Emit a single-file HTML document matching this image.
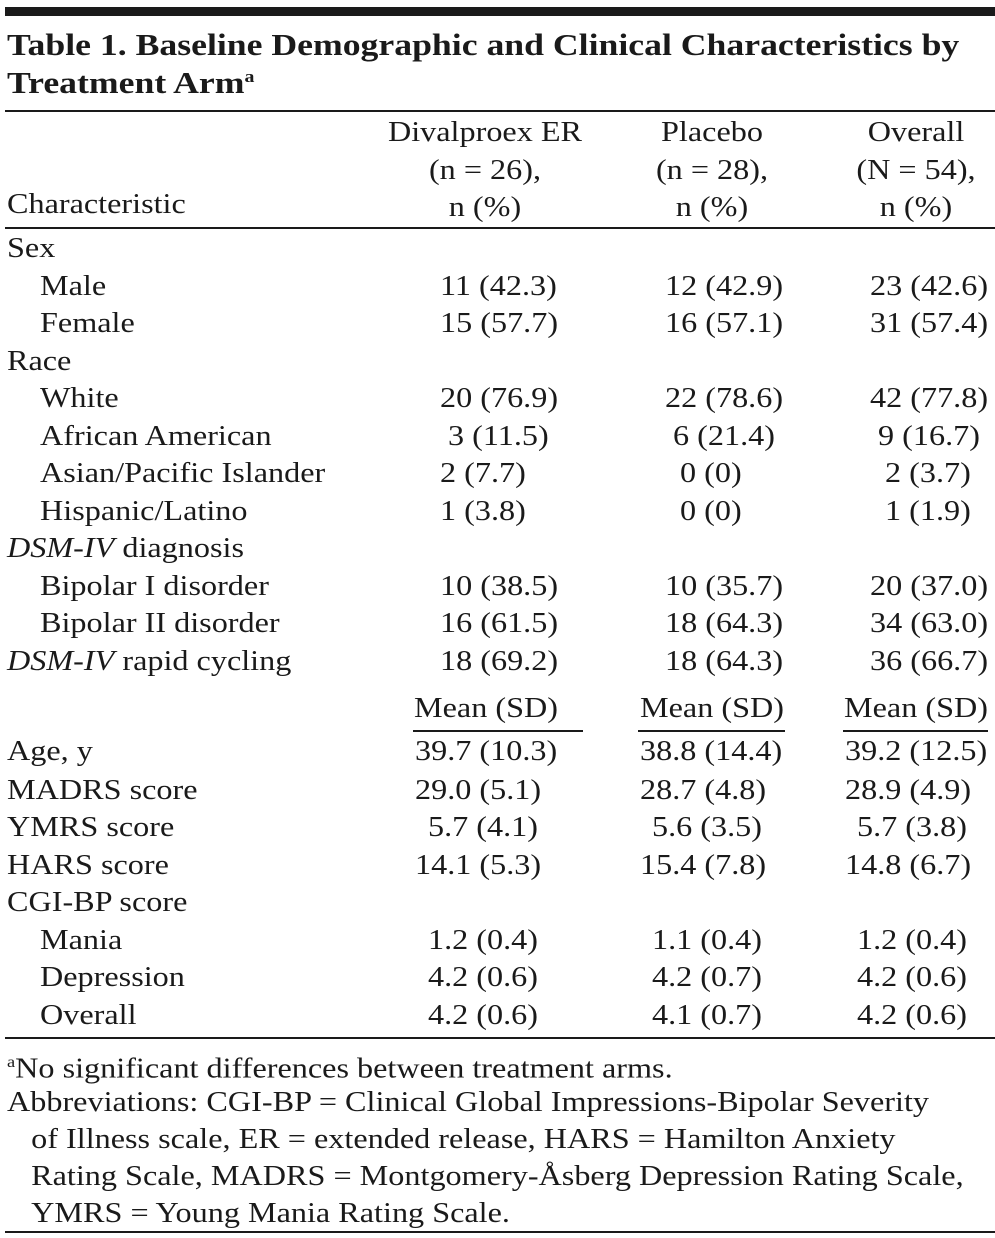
<!DOCTYPE html>
<html><head><meta charset="utf-8"><style>
body{margin:0;background:#fff;}
#t{position:relative;width:995px;height:1238px;overflow:hidden;font-family:"Liberation Serif",serif;color:#1a1a1a;font-size:28px;}
#t div{position:absolute;white-space:nowrap;line-height:32px;}
#t .s{transform:scaleX(1.15);transform-origin:0 0;}
.r{background:#1a1a1a;height:2px;}
#t .h{text-align:center;width:240px;transform:scaleX(1.15);transform-origin:50% 0;}
</style></head><body>
<div id="t">
<div style="left:5px;top:7px;width:990px;height:9px;background:#1a1a1a"></div>
<div class="s" style="left:7px;top:28px;font-weight:bold;font-size:30.5px;line-height:37px;transform:scaleX(1.17) scaleY(1);"><span style="display:block;line-height:35px">Table 1. Baseline Demographic and Clinical Characteristics by</span><span style="display:block;line-height:35px;margin-top:3px">Treatment Arm<sup style="font-size:17px;line-height:0">a</sup></span></div>
<div class="r" style="left:5px;top:110px;width:990px"></div>
<div class="s" style="left:7px;top:189px">Characteristic</div>
<div class="h" style="left:365px;top:114px;line-height:37.5px">Divalproex ER<br>(n = 26),<br>n (%)</div>
<div class="h" style="left:592px;top:114px;line-height:37.5px">Placebo<br>(n = 28),<br>n (%)</div>
<div class="h" style="left:796px;top:114px;line-height:37.5px">Overall<br>(N = 54),<br>n (%)</div>
<div class="r" style="left:5px;top:227px;width:990px"></div>
<div class="r" style="left:413px;top:730px;width:170px"></div>
<div class="r" style="left:638px;top:730px;width:147px"></div>
<div class="r" style="left:843px;top:730px;width:145px"></div>
<div class="r" style="left:5px;top:1037px;width:990px"></div>
<div class="s" style="left:7px;top:1047px"><sup style="font-size:16px">a</sup>No significant differences between treatment arms.</div>
<div class="s" style="left:7px;top:1084px;line-height:37px">Abbreviations: CGI-BP = Clinical Global Impressions-Bipolar Severity<br>&nbsp;&nbsp;&nbsp;of Illness scale, ER = extended release, HARS = Hamilton Anxiety<br>&nbsp;&nbsp;&nbsp;Rating Scale, MADRS = Montgomery-Åsberg Depression Rating Scale,<br>&nbsp;&nbsp;&nbsp;YMRS = Young Mania Rating Scale.</div>
<div class="r" style="left:5px;top:1231px;width:990px"></div>
</div>
<script>
const labels=[["Sex",7,250],["Male",40,288],["Female",40,325],["Race",7,363],["White",40,400],["African American",40,438],["Asian/Pacific Islander",40,475],["Hispanic/Latino",40,513],["<i>DSM-IV</i> diagnosis",7,550],["Bipolar I disorder",40,588],["Bipolar II disorder",40,625],["<i>DSM-IV</i> rapid cycling",7,663],["Age, y",7,753],["MADRS score",7,792],["YMRS score",7,829],["HARS score",7,867],["CGI-BP score",7,904],["Mania",40,942],["Depression",40,979],["Overall",40,1017]];
const cells=[
[288,440,"11 (42.3)",665,"12 (42.9)",870,"23 (42.6)"],
[325,440,"15 (57.7)",665,"16 (57.1)",870,"31 (57.4)"],
[400,440,"20 (76.9)",665,"22 (78.6)",870,"42 (77.8)"],
[438,448,"3 (11.5)",673,"6 (21.4)",878,"9 (16.7)"],
[475,440,"2 (7.7)",680,"0 (0)",885,"2 (3.7)"],
[513,440,"1 (3.8)",680,"0 (0)",885,"1 (1.9)"],
[588,440,"10 (38.5)",665,"10 (35.7)",870,"20 (37.0)"],
[625,440,"16 (61.5)",665,"18 (64.3)",870,"34 (63.0)"],
[663,440,"18 (69.2)",665,"18 (64.3)",870,"36 (66.7)"],
[710,414,"Mean (SD)",640,"Mean (SD)",844,"Mean (SD)"],
[753,415,"39.7 (10.3)",640,"38.8 (14.4)",845,"39.2 (12.5)"],
[792,415,"29.0 (5.1)",640,"28.7 (4.8)",845,"28.9 (4.9)"],
[829,428,"5.7 (4.1)",652,"5.6 (3.5)",857,"5.7 (3.8)"],
[867,415,"14.1 (5.3)",640,"15.4 (7.8)",845,"14.8 (6.7)"],
[942,428,"1.2 (0.4)",652,"1.1 (0.4)",857,"1.2 (0.4)"],
[979,428,"4.2 (0.6)",652,"4.2 (0.7)",857,"4.2 (0.6)"],
[1017,428,"4.2 (0.6)",652,"4.1 (0.7)",857,"4.2 (0.6)"]];
const root=document.getElementById('t');
labels.forEach(l=>{const d=document.createElement('div');


d.className='s';d.style.left=l[1]+'px';d.style.top=(l[2]-17)+'px';d.innerHTML=l[0];root.appendChild(d);});
cells.forEach(c=>{for(let i=0;i<3;i++){const d=document.createElement('div');


d.className='s';d.style.left=c[1+2*i]+'px';d.style.top=(c[0]-17)+'px';d.textContent=c[2+2*i];root.appendChild(d);}});
</script>
</body></html>
